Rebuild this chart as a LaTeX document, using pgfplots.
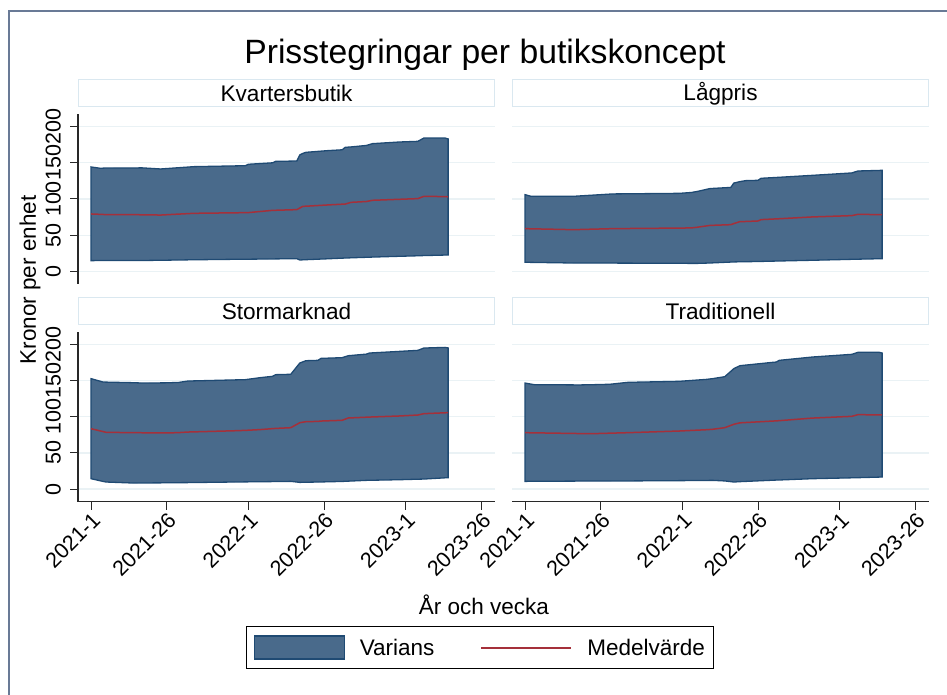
\documentclass[border=0pt]{standalone}
\usepackage{pgfplots}
\pgfplotsset{compat=1.18}
\usepackage{pgfplotstable}
\usepackage{fontspec}
\setmainfont{Liberation Sans}

\definecolor{areac}{RGB}{73,106,139}
\definecolor{edgec}{RGB}{31,74,115}
\definecolor{meanc}{RGB}{165,48,58}
\definecolor{gridc}{RGB}{234,242,245}
\definecolor{stripc}{RGB}{218,232,240}
\definecolor{framec}{RGB}{105,122,150}
\definecolor{axisc}{RGB}{40,40,40}

% t = weeks since 2021-1
\pgfplotstableread{
t hi lo mean
0 144.3 14.8 79.3
3 142.5 14.9 78.8
5 142.8 14.9 78.4
17 143.0 15.0 78.2
23 141.5 15.3 77.8
34 144.7 16.0 80.2
51 146.0 16.8 81.1
52 148.0 16.8 81.2
60 150.0 17.1 84.3
61 152.0 17.2 84.4
68 152.5 17.5 85.3
69 161.0 15.7 87.5
70 163.0 15.9 89.9
71 164.5 16.1 90.0
78 166.8 17.3 91.7
83 168.0 18.2 92.8
84 171.4 18.4 93.0
86 172.0 18.7 95.4
91 174.0 19.4 96.5
93 176.5 19.7 98.2
102 178.8 20.8 99.6
108 179.7 21.5 100.5
110 184.3 21.8 103.7
117 184.3 22.5 103.3
118 183.0 22.6 103.0
}\kvarter

\pgfplotstableread{
t hi lo mean
0 106.0 12.5 59.0
2 103.7 12.4 58.8
16 103.7 11.5 57.6
29 107.0 11.4 59.0
51 107.8 11.1 59.8
55 109.0 11.0 60.0
57 110.5 11.0 61.0
61 114.3 11.5 63.4
62 114.6 11.7 63.6
68 116.0 12.8 64.5
69 122.0 13.0 66.0
71 124.0 13.2 68.7
73 125.4 13.3 68.9
77 125.8 13.6 69.6
78 128.6 13.7 71.5
84 130.0 14.3 72.7
95 132.7 15.3 75.2
108 136.0 16.6 77.0
110 138.7 16.8 78.8
118 139.6 17.5 78.3
}\lagpris

\pgfplotstableread{
t hi lo mean
0 152.6 14.3 83.4
4 147.9 10.5 79.4
5 147.8 9.7 78.4
14 147.0 8.3 77.9
17 146.5 8.4 77.8
25 146.8 8.6 77.5
29 147.4 8.8 78.0
32 149.3 8.9 78.8
47 150.8 9.7 80.5
51 151.2 9.9 81.1
56 154.0 10.1 82.2
60 155.8 10.3 83.5
61 158.1 10.3 83.8
66 158.6 10.6 84.8
69 174.2 9.2 91.7
71 177.4 9.4 93.1
75 177.9 9.7 93.5
76 180.6 9.8 94.0
83 181.6 10.5 95.0
85 184.3 10.9 98.2
91 186.5 12.0 99.3
92 188.0 12.1 99.5
102 190.3 12.9 101.0
108 191.7 13.6 102.3
110 194.9 13.8 104.2
117 195.8 15.5 105.4
118 195.0 15.7 105.6
}\stormarknad

\pgfplotstableread{
t hi lo mean
0 146.5 10.6 77.9
3 144.3 10.7 77.7
18 143.9 11.0 76.7
22 144.2 11.0 76.5
28 144.8 11.1 77.2
34 147.5 11.2 77.9
51 148.9 11.6 80.2
60 151.6 11.9 82.0
62 152.6 12.0 82.6
66 155.3 11.2 84.8
69 166.4 9.7 89.5
71 170.5 10.2 91.5
82 175.2 12.2 94.0
83 175.5 12.4 94.2
84 177.9 12.5 94.5
95 182.5 14.3 98.1
108 186.2 15.5 100.5
110 189.0 15.7 102.8
117 189.0 16.5 102.5
118 188.0 16.6 102.4
}\traditionell

\pgfplotsset{
  panel/.style={
    scale only axis, width=417pt, height=170pt,
    xmin=-4.3, xmax=133.5, ymin=-17.5, ymax=217.5,
    ytick={0,50,...,200},
    xtick={0,25,52,77,104,129},
    xticklabels={2021-1,2021-26,2022-1,2022-26,2023-1,2023-26},
    ymajorgrids, grid style={gridc, line width=1.3pt},
    axis x line*=bottom, axis y line*=left,
    axis line style={axisc, line width=1.3pt},
    tick align=outside, major tick length=8pt,
    tick style={axisc, line width=1pt},
    /pgf/number format/assume math mode=true,
    yticklabel style={rotate=90, anchor=south, inner sep=0pt, yshift=9pt,
      font=\fontsize{21.5}{24}\selectfont},
    xticklabel style={rotate=45, anchor=north east, inner sep=1pt,
      font=\fontsize{21.5}{24}\selectfont},
    title style={at={(0.5,1)}, anchor=south, yshift=0.5pt, draw=stripc,
      line width=1pt, fill=white, minimum width=416pt, minimum height=27.5pt,
      inner sep=0pt, font=\fontsize{22.6}{26}\selectfont},
  },
}

\newcommand{\band}[1]{%
  \addplot[stack plots=y, draw=none, forget plot] table[x=t, y=lo] {#1};
  \addplot[stack plots=y, fill=areac, draw=edgec, line width=1.3pt,
    legend image code/.code={\draw[fill=areac, draw=edgec, line width=1.3pt] (0pt,-11.5pt) rectangle (90pt,11.5pt);}]
    table[x=t, y expr=\thisrow{hi}-\thisrow{lo}] {#1} \closedcycle;
  \addplot[color=meanc, line width=1.5pt, no marks,
    legend image code/.code={\draw[color=meanc, line width=1.8pt] (0pt,0pt) -- (90pt,0pt);}]
    table[x=t, y=mean] {#1};
}

\begin{document}
\begin{tikzpicture}
\useasboundingbox (0pt,0pt) rectangle (947pt,695pt);
\draw[framec, line width=2pt] (9pt,-2pt) -- (9pt,684pt) -- (949pt,684pt);
\node[font=\fontsize{33.7}{38}\selectfont] at (485pt,640pt) {Prisstegringar per butikskoncept};

\begin{axis}[panel, at={(78pt,411pt)}, anchor=south west, title={Kvartersbutik},
  xtick=\empty, x axis line style={draw=none}]
\band{\kvarter}
\end{axis}

\begin{axis}[panel, at={(512pt,411pt)}, anchor=south west, title={Lågpris},
  xtick=\empty, x axis line style={draw=none},
  yticklabels={}, y axis line style={draw=none}, major tick length=0pt]
\band{\lagpris}
\end{axis}

\begin{axis}[panel, at={(78pt,193.3pt)}, anchor=south west, title={Stormarknad},
  legend columns=2,
  legend style={at={(0.403,-0.731)}, anchor=north west, draw=black, line width=1pt,
    font=\fontsize{22.5}{26}\selectfont, inner xsep=7pt, inner ysep=9pt,
    /tikz/every odd column/.append style={column sep=13pt},
    /tikz/every even column/.append style={column sep=44pt}},
  ]
\band{\stormarknad}
\legend{Varians, Medelvärde}
\end{axis}

\begin{axis}[panel, at={(512pt,193.3pt)}, anchor=south west, title={Traditionell},
  yticklabels={}, y axis line style={draw=none}, ytick style={draw=none}]
\band{\traditionell}
\end{axis}

\node[font=\fontsize{22.5}{26}\selectfont] at (484pt,90pt) {År och vecka};
\node[font=\fontsize{22.5}{26}\selectfont, rotate=90] at (30pt,415pt) {Kronor per enhet};
\end{tikzpicture}
\end{document}
